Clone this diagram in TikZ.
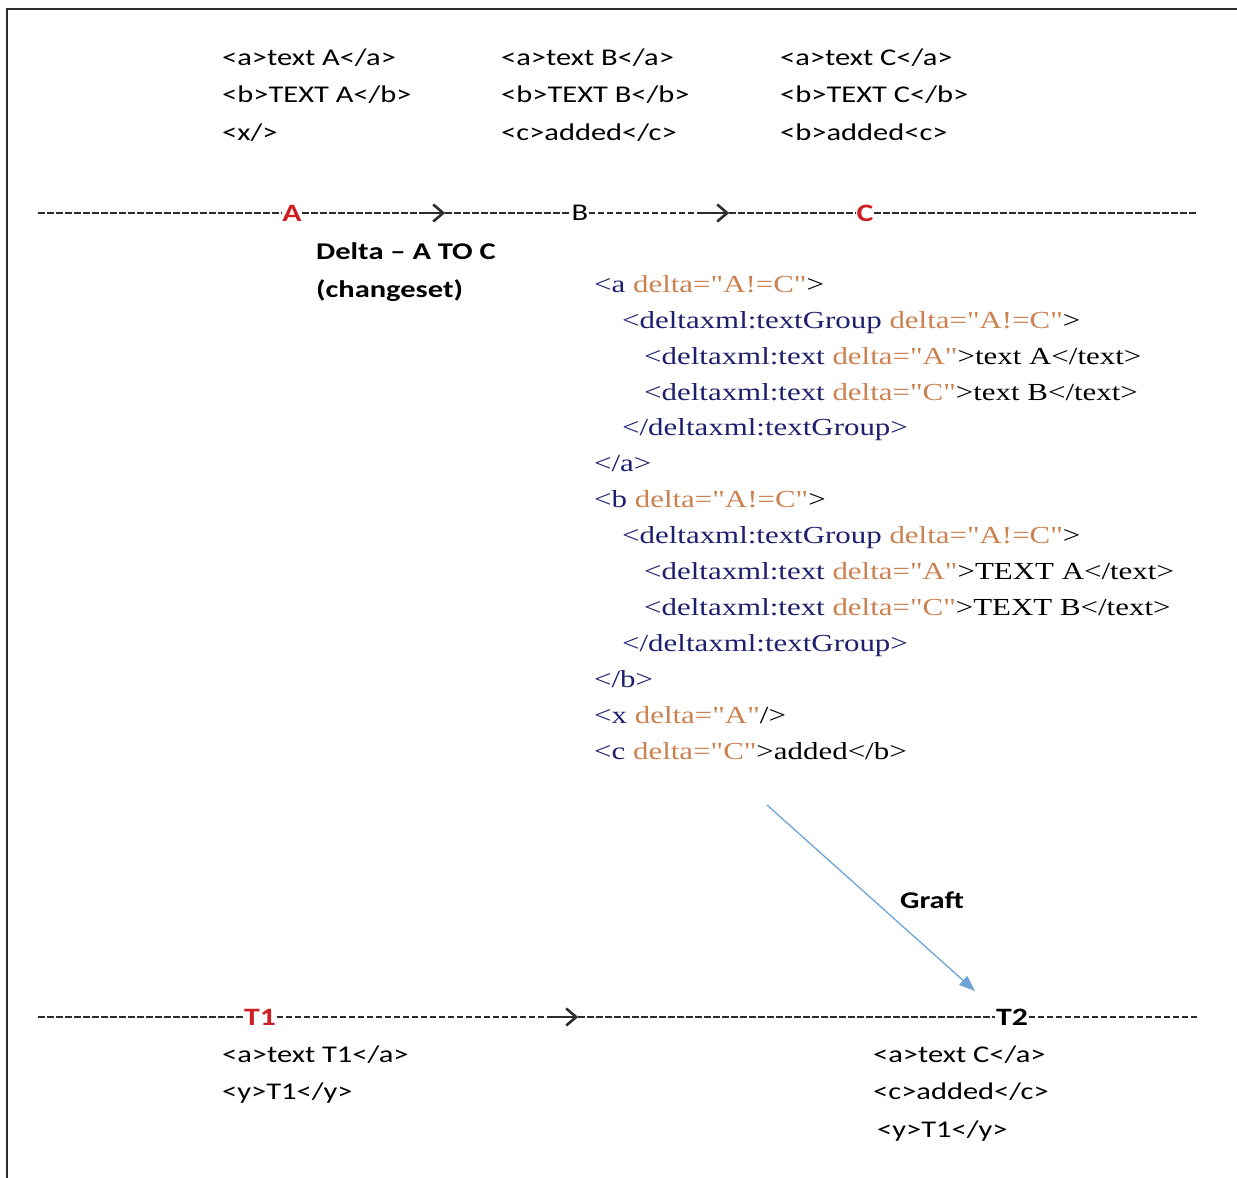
\documentclass[tikz,border=0pt]{standalone}
\usepackage{fontspec}
\setmainfont{Carlito}
\newfontfamily\calfont[FakeStretch=1.27, Ligatures=TeX]{Carlito}
\newfontfamily\xmlfont[FakeStretch=1.262]{Liberation Serif}
\usetikzlibrary{arrows.meta}

\definecolor{tagblue}{RGB}{30,32,110}
\definecolor{attrorange}{RGB}{204,130,80}
\definecolor{markred}{RGB}{205,30,35}
\definecolor{graftblue}{RGB}{110,165,215}
\definecolor{rulegray}{RGB}{45,45,45}

% XML colouring helpers
\newcommand\xtag[1]{\textcolor{tagblue}{#1}}
\newcommand\xattr[1]{\textcolor{attrorange}{#1}}

% multi-line nodes are placed by the baseline of their last line
\tikzset{
  plain/.style={font=\calfont\fontsize{24}{37.5}\selectfont, align=left, inner sep=0pt, anchor=base west},
  boldtxt/.style={font=\calfont\bfseries\fontsize{24}{38}\selectfont, align=left, inner sep=0pt},
  xmltxt/.style={font=\xmlfont\fontsize{24.5}{35.9}\selectfont, align=left, inner sep=0pt, anchor=base west},
  version/.style={font=\calfont\bfseries\fontsize{25}{30}\selectfont, text=markred, inner sep=0.5pt},
  versionplain/.style={font=\calfont\fontsize{24}{30}\selectfont, inner sep=0.5pt},
  versionblack/.style={font=\calfont\bfseries\fontsize{25}{30}\selectfont, inner sep=0.5pt},
  slot/.style={minimum width=26pt, minimum height=14pt, inner sep=0pt},
  timeline/.style={draw=rulegray, line width=2.2pt, dash pattern=on 6.5pt off 2.5pt},
  flowarrow/.style={draw=rulegray, line width=2.6pt, -{Straight Barb[length=10pt, width=17pt, line width=2.6pt]}},
  graft/.style={draw=graftblue, line width=1.3pt, -{Triangle[length=16pt, width=12pt]}},
}

\begin{document}
\begin{tikzpicture}[x=1pt, y=-1pt]
\useasboundingbox (0,0) rectangle (1237,1178);

% frame
\draw[line width=2.5pt, rulegray] (7,1178) -- (7,9) -- (1237,9);

% document versions above the first timeline
\node[plain] (docA) at (222,140) {<a>text A</a>\\<b>TEXT A</b>\\<x/>};
\node[plain] (docB) at (501,140) {<a>text B</a>\\<b>TEXT B</b>\\<c>added</c>};
\node[plain] (docC) at (780,140) {<a>text C</a>\\<b>TEXT C</b>\\<b>added<c>};

% first timeline A -> B -> C
\coordinate (s1) at (38,213);
\coordinate (e1) at (1196,213);
\node[version] (A) at (292,213) {A};
\node[slot] (ar1) at (432,213) {};
\node[versionplain] (B) at (580,213) {B};
\node[slot] (ar2) at (716,213) {};
\node[version] (C) at (865,213) {C};
\draw[timeline] (s1) -- (A.west);
\draw[timeline] (A.east) -- (ar1.west);
\draw[timeline] (ar1.east) -- (B.west);
\draw[timeline] (B.east) -- (ar2.west);
\draw[timeline] (ar2.east) -- (C.west);
\draw[timeline] (C.east) -- (e1);
\draw[flowarrow] (ar1.west) -- (ar1.east);
\draw[flowarrow] (ar2.west) -- (ar2.east);

% delta label
\node[boldtxt, anchor=base west] (delta) at (316,297) {Delta – A TO C\\(changeset)};

% the changeset
\node[xmltxt] (xml) at (594,759) {%
\xtag{<a} \xattr{delta="A!=C"}>\\
\hspace*{28pt}\xtag{<deltaxml:textGroup} \xattr{delta="A!=C"}>\\
\hspace*{50pt}\xtag{<deltaxml:text} \xattr{delta="A"}>text A</text>\\
\hspace*{50pt}\xtag{<deltaxml:text} \xattr{delta="C"}>text B</text>\\
\hspace*{28pt}\xtag{</deltaxml:textGroup>}\\
\xtag{</a>}\\
\xtag{<b} \xattr{delta="A!=C"}>\\
\hspace*{28pt}\xtag{<deltaxml:textGroup} \xattr{delta="A!=C"}>\\
\hspace*{50pt}\xtag{<deltaxml:text} \xattr{delta="A"}>TEXT A</text>\\
\hspace*{50pt}\xtag{<deltaxml:text} \xattr{delta="C"}>TEXT B</text>\\
\hspace*{28pt}\xtag{</deltaxml:textGroup>}\\
\xtag{</b>}\\
\xtag{<x} \xattr{delta="A"}/>\\
\xtag{<c} \xattr{delta="C"}>added</b>};

% graft
\coordinate (gs) at (767,805);
\coordinate (ge) at (975,991);
\draw[graft] (gs) -- (ge);
\node[boldtxt] (graftlabel) at (932,900) {Graft};

% second timeline T1 -> T2
\coordinate (s2) at (38,1017);
\coordinate (e2) at (1198,1017);
\node[version] (T1) at (260,1017) {T1};
\node[slot] (ar3) at (565,1017) {};
\node[versionblack] (T2) at (1012,1017) {T2};
\draw[timeline] (s2) -- (T1.west);
\draw[timeline] (T1.east) -- (ar3.west);
\draw[timeline] (ar3.east) -- (T2.west);
\draw[timeline] (T2.east) -- (e2);
\draw[flowarrow] (ar3.west) -- (ar3.east);

% documents below the second timeline
\node[plain] (docT1) at (222,1099.5) {<a>text T1</a>\\<y>T1</y>};
\node[plain] (docT2) at (873,1137) {<a>text C</a>\\<c>added</c>\\\hspace*{4pt}<y>T1</y>};
\end{tikzpicture}
\end{document}
